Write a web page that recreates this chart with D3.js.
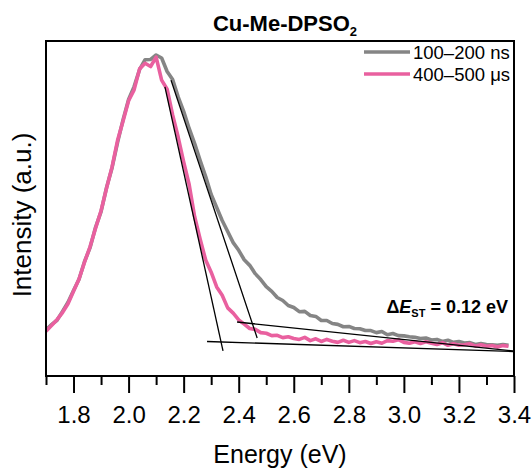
<!DOCTYPE html>
<html>
<head>
<meta charset="utf-8">
<script src="https://cdn.jsdelivr.net/npm/d3@7"></script>
<style>
  html, body { margin: 0; padding: 0; background: #fff; }
  svg { display: block; }
  text { font-family: "Liberation Sans", Arial, Helvetica, sans-serif; fill: #000; }
</style>
</head>
<body>
<script>
// ---------- data ----------
const energy = [1.70,1.72,1.74,1.76,1.78,1.80,1.82,1.84,1.86,1.88,1.90,1.92,1.94,1.96,1.98,
  2.00,2.02,2.04,2.06,2.08,2.10,2.12,2.14,2.16,2.18,2.20,2.22,2.24,2.26,2.28,
  2.30,2.32,2.34,2.36,2.38,2.40,2.42,2.44,2.46,2.48,2.50,2.52,2.54,2.56,2.58,
  2.60,2.62,2.64,2.66,2.68,2.70,2.72,2.74,2.76,2.78,2.80,2.82,2.84,2.86,2.88,
  2.90,2.92,2.94,2.96,2.98,3.00,3.02,3.04,3.06,3.08,3.10,3.12,3.14,3.16,3.18,
  3.20,3.22,3.24,3.26,3.28,3.30,3.32,3.34,3.36,3.38];

// 100–200 ns (prompt)
const intensityNs = [0.068,0.086,0.101,0.131,0.162,0.202,0.240,0.300,0.347,0.416,0.469,0.551,0.618,0.704,0.781,
  0.849,0.893,0.951,0.984,0.985,1.000,0.990,0.944,0.917,0.858,0.809,0.751,0.700,0.642,0.588,
  0.527,0.483,0.439,0.402,0.364,0.338,0.306,0.287,0.259,0.239,0.215,0.199,0.178,0.168,0.151,
  0.144,0.130,0.131,0.117,0.114,0.100,0.100,0.090,0.087,0.079,0.080,0.073,0.072,0.066,0.066,
  0.059,0.063,0.052,0.056,0.049,0.048,0.045,0.043,0.039,0.041,0.034,0.036,0.029,0.033,0.026,
  0.029,0.024,0.025,0.019,0.022,0.019,0.018,0.016,0.019,0.016];

// 400–500 μs (delayed)
const intensityUs = [0.064,0.083,0.103,0.127,0.157,0.199,0.241,0.298,0.350,0.413,0.472,0.549,0.621,0.711,0.776,
  0.845,0.882,0.953,0.972,0.961,0.993,0.915,0.884,0.797,0.722,0.638,0.561,0.452,0.376,0.305,
  0.264,0.214,0.186,0.143,0.125,0.102,0.088,0.073,0.070,0.059,0.057,0.049,0.050,0.042,0.045,
  0.039,0.036,0.043,0.032,0.038,0.029,0.036,0.030,0.026,0.033,0.026,0.032,0.025,0.029,0.022,
  0.028,0.023,0.032,0.030,0.035,0.026,0.023,0.028,0.022,0.028,0.023,0.019,0.025,0.016,0.021,
  0.016,0.018,0.021,0.013,0.018,0.013,0.015,0.010,0.015,0.013];

// tangent (onset) construction lines: [energy, intensity] end points
const tangentUsEdge = [[2.132, 0.892], [2.343, -0.003]];
const tangentNsEdge = [[2.154, 0.915], [2.467, 0.041]];
const tangentNsBase = [[2.394, 0.095], [3.397, -0.003]];
const tangentUsBase = [[2.285, 0.029], [3.397, -0.005]];

const seriesNames = ["100\u2013200 ns", "400\u2013500 \u03bcs"];
const seriesColors = ["#858585", "#e9609f"];
const xTicksMajor = [1.8, 2.0, 2.2, 2.4, 2.6, 2.8, 3.0, 3.2, 3.4];
const xTicksMinor = [1.7, 1.9, 2.1, 2.3, 2.5, 2.7, 2.9, 3.1, 3.3];

// ---------- layout ----------
const W = 532, H = 468;
const L = 46, R = 514, T = 41, B = 376;

const svg = d3.select("body").append("svg")
  .attr("width", W).attr("height", H)
  .style("background", "#fff");

const x = d3.scaleLinear().domain([1.7, 3.4]).range([L, R]);
const y = d3.scaleLinear().domain([-0.088, 1.0475]).range([B, T]);

svg.append("clipPath").attr("id", "plotclip")
  .append("rect").attr("x", L).attr("y", T).attr("width", R - L).attr("height", B - T);

const plot = svg.append("g").attr("clip-path", "url(#plotclip)");

const line = d3.line().x(d => x(d[0])).y(d => y(d[1]));

const dataNs = energy.map((e, i) => [e, intensityNs[i]]);
const dataUs = energy.map((e, i) => [e, intensityUs[i]]);

plot.append("path").datum(dataNs)
  .attr("d", line).attr("fill", "none")
  .attr("stroke", seriesColors[0]).attr("stroke-width", 3.6)
  .attr("stroke-linejoin", "round");

plot.append("path").datum(dataUs)
  .attr("d", line).attr("fill", "none")
  .attr("stroke", seriesColors[1]).attr("stroke-width", 3.6)
  .attr("stroke-linejoin", "round");

[tangentUsEdge, tangentNsEdge, tangentNsBase, tangentUsBase].forEach(t => {
  plot.append("path").datum(t)
    .attr("d", line).attr("fill", "none")
    .attr("stroke", "#000").attr("stroke-width", 1.3);
});

// frame
svg.append("rect")
  .attr("x", L).attr("y", T).attr("width", R - L).attr("height", B - T)
  .attr("fill", "none").attr("stroke", "#000").attr("stroke-width", 2);

// x axis
const axMajor = svg.append("g").attr("transform", `translate(0,${B})`)
  .call(d3.axisBottom(x).tickValues(xTicksMajor).tickFormat(d3.format(".1f"))
    .tickSize(17).tickPadding(13));
axMajor.select(".domain").remove();
axMajor.selectAll(".tick line").attr("stroke", "#000").attr("stroke-width", 2);
axMajor.selectAll(".tick text")
  .style("font-family", "'Liberation Sans', Arial, sans-serif")
  .style("font-size", "24px").attr("fill", "#000");

const axMinor = svg.append("g").attr("transform", `translate(0,${B})`)
  .call(d3.axisBottom(x).tickValues(xTicksMinor).tickFormat("").tickSize(9));
axMinor.select(".domain").remove();
axMinor.selectAll(".tick line").attr("stroke", "#000").attr("stroke-width", 2);

// axis titles
svg.append("text")
  .attr("x", (L + R) / 2).attr("y", 463)
  .attr("text-anchor", "middle")
  .style("font-size", "25px")
  .text("Energy (eV)");

svg.append("text")
  .attr("transform", `translate(31,${215}) rotate(-90)`)
  .attr("text-anchor", "middle")
  .style("font-size", "26px")
  .text("Intensity (a.u.)");

// title
const title = svg.append("text")
  .attr("x", 285).attr("y", 31)
  .attr("text-anchor", "middle")
  .style("font-size", "22px").style("font-weight", "bold");
title.append("tspan").text("Cu-Me-DPSO");
title.append("tspan").attr("dy", 5).style("font-size", "13px").text("2");

// legend
const legendY = [52, 74];
seriesNames.forEach((name, i) => {
  svg.append("line")
    .attr("x1", 364).attr("x2", 410)
    .attr("y1", legendY[i]).attr("y2", legendY[i])
    .attr("stroke", seriesColors[i]).attr("stroke-width", 3.6);
  svg.append("text")
    .attr("x", 413).attr("y", legendY[i] + 6.5)
    .style("font-size", "18.5px")
    .text(name);
});

// annotation
const ann = svg.append("text")
  .attr("x", 508).attr("y", 313)
  .attr("text-anchor", "end")
  .style("font-size", "18px").style("font-weight", "bold");
ann.append("tspan").text("\u0394");
ann.append("tspan").style("font-style", "italic").text("E");
ann.append("tspan").attr("dy", 4).style("font-size", "11px").text("ST");
ann.append("tspan").attr("dy", -4).text(" = 0.12 eV");
</script>
</body>
</html>
